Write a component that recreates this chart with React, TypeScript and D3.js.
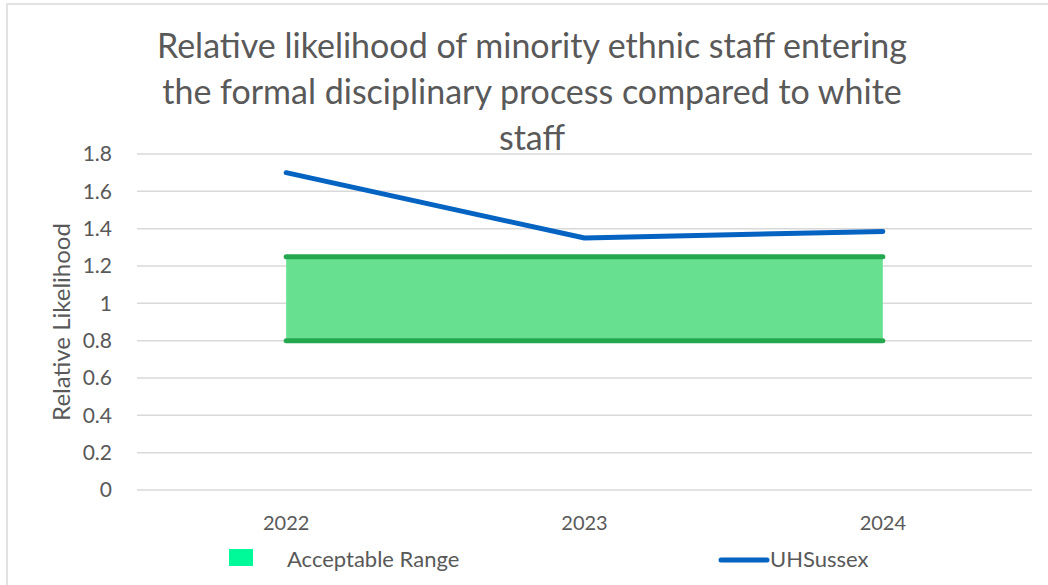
import React from "react";
import * as d3 from "d3";

const years = ["2022", "2023", "2024"];
const uhSussex = [1.7, 1.35, 1.385];
const rangeLower = [0.8, 0.8, 0.8];
const rangeUpper = [1.25, 1.25, 1.25];
const yTicks = [0, 0.2, 0.4, 0.6, 0.8, 1, 1.2, 1.4, 1.6, 1.8];
const titleLines = [
  "Relative likelihood of minority ethnic staff entering",
  "the formal disciplinary process compared to white",
  "staff",
];

const W = 1048;
const H = 585;
const font = "Lato, 'Open Sans', sans-serif";
const textColor = "#595959";

export default function App() {
  const plotLeft = 137;
  const plotRight = 1032;
  const x = d3.scaleBand<string>().domain(years).range([plotLeft, plotRight]);
  const cx = (c: string) => (x(c) ?? 0) + x.bandwidth() / 2;
  const y = d3.scaleLinear().domain([0, 1.8]).range([490, 154]);

  const band = years.map((c, i) => ({ c, lo: rangeLower[i], hi: rangeUpper[i] }));
  const area = d3
    .area<{ c: string; lo: number; hi: number }>()
    .x((d) => cx(d.c))
    .y0((d) => y(d.lo))
    .y1((d) => y(d.hi));
  const lineFn = d3
    .line<number>()
    .x((_, i) => cx(years[i]))
    .y((d) => y(d));

  return (
    <svg
      width={W}
      height={H}
      style={{ position: "absolute", left: 0, top: 0, background: "#fff" }}
    >
      <rect x={7} y={4} width={W} height={H} fill="#fff" stroke="#d9d9d9" strokeWidth={1.5} />
      {titleLines.map((t, i) => (
        <text
          key={i}
          x={532}
          y={58 + i * 46}
          textAnchor="middle"
          fontFamily={font}
          fontSize={34}
          fill={textColor}
        >
          {t}
        </text>
      ))}
      {yTicks.map((t) => (
        <g key={t}>
          <line x1={plotLeft} x2={plotRight} y1={y(t)} y2={y(t)} stroke="#d9d9d9" strokeWidth={1.5} />
          <text
            x={112}
            y={y(t)}
            dy="0.35em"
            textAnchor="end"
            fontFamily={font}
            fontSize={21}
            fill={textColor}
          >
            {d3.format("~g")(t)}
          </text>
        </g>
      ))}
      <text
        transform={`translate(70,322) rotate(-90)`}
        textAnchor="middle"
        fontFamily={font}
        fontSize={24}
        fill={textColor}
      >
        Relative Likelihood
      </text>
      {years.map((c) => (
        <text
          key={c}
          x={cx(c)}
          y={530}
          textAnchor="middle"
          fontFamily={font}
          fontSize={20}
          fill={textColor}
        >
          {c}
        </text>
      ))}
      <path d={area(band) ?? ""} fill="#67E190" />
      <path
        d={lineFn(rangeUpper) ?? ""}
        fill="none"
        stroke="#25A750"
        strokeWidth={5}
        strokeLinecap="round"
      />
      <path
        d={lineFn(rangeLower) ?? ""}
        fill="none"
        stroke="#25A750"
        strokeWidth={5}
        strokeLinecap="round"
      />
      <path
        d={lineFn(uhSussex) ?? ""}
        fill="none"
        stroke="#0563C1"
        strokeWidth={5}
        strokeLinecap="round"
        strokeLinejoin="round"
      />
      <rect x={229} y={549} width={24} height={17} fill="#00FA9A" />
      <text x={287} y={567} fontFamily={font} fontSize={22} fill={textColor}>
        Acceptable Range
      </text>
      <line x1={721} x2={767} y1={560} y2={560} stroke="#0563C1" strokeWidth={5} strokeLinecap="round" />
      <text x={770} y={567} fontFamily={font} fontSize={22} fill={textColor}>
        UHSussex
      </text>
    </svg>
  );
}
